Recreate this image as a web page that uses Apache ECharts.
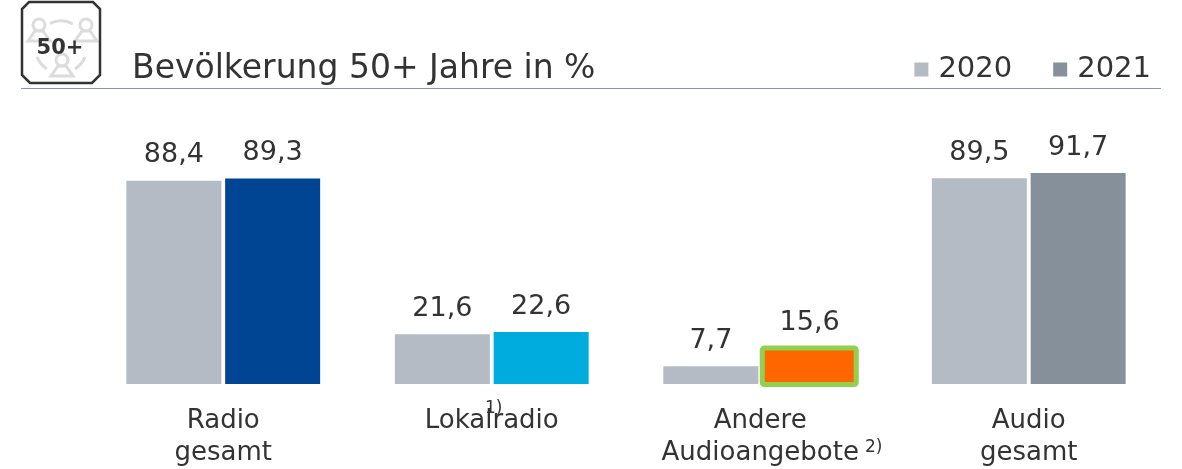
<!DOCTYPE html>
<html>
<head>
<meta charset="utf-8">
<style>html,body{margin:0;padding:0;background:#fff}#main{width:1182px;height:469px}</style>
<script src="https://cdn.jsdelivr.net/npm/echarts@6/dist/echarts.min.js"></script>
</head>
<body>
<div id="main"></div>
<script>
var categories = ['Radio\ngesamt', 'Lokalradio', 'Andere\nAudioangebote', 'Audio\ngesamt'];
var values2020 = [88.4, 21.6, 7.7, 89.5];
var values2021 = [89.3, 22.6, 15.6, 91.7];
var colors2021 = ['#004494', '#00acdd', '#ff6600', '#85909b'];
var highlight2021 = [null, null, 15.6, null];
var titleText = 'Bevölkerung 50+ Jahre in %';

var font = '"DejaVu Sans", sans-serif';
var textColor = '#333333';
var myChart = echarts.init(document.getElementById('main'));

function commaLabel(p) {
    return String(p.value).replace('.', ',');
}

// one pale figure of the 50+ icon
function person(x, y) {
    return {
        type: 'group', x: x, y: y, silent: true,
        children: [
            {type: 'circle', shape: {cx: 0, cy: -10, r: 6}, style: {fill: '#fff', stroke: '#dcdcdc', lineWidth: 3}},
            {type: 'polygon', shape: {points: [[-4, -4], [4, -4], [11, 6], [-11, 6]]}, style: {fill: '#fff', stroke: '#dcdcdc', lineWidth: 3}}
        ]
    };
}

// green frame round the highlighted 2021 bar, it sits outside the bar edge
function renderFrame(params, api) {
    var top = api.coord([api.value(0), api.value(1)]);
    var base = api.coord([api.value(0), 0]);
    return {
        type: 'rect',
        shape: {x: top[0] + 2, y: top[1], width: 94, height: base[1] - top[1] + 0.5, r: 2},
        style: {fill: 'none', stroke: '#92d050', lineWidth: 5}
    };
}

var option = {
    animation: false,
    title: {
        text: titleText,
        left: 127,
        top: 48,
        textStyle: {fontFamily: font, fontSize: 33, fontWeight: 'normal', color: textColor}
    },
    legend: {
        right: 26,
        top: 50,
        itemWidth: 14,
        itemHeight: 14,
        itemGap: 41,
        icon: 'rect',
        data: ['2020', '2021'],
        textStyle: {fontFamily: font, fontSize: 29, color: textColor, padding: [0, 0, 0, 5]}
    },
    grid: {left: 89, right: 19, top: 154, height: 230, outerBoundsMode: 'none'},
    xAxis: {
        type: 'category',
        data: categories,
        axisLine: {show: false},
        axisTick: {show: false},
        axisLabel: {
            interval: 0,
            margin: 21,
            fontFamily: font,
            fontSize: 26,
            lineHeight: 32,
            color: textColor
        }
    },
    yAxis: {type: 'value', min: 0, max: 100, show: false},
    series: [
        {
            name: '2020',
            type: 'bar',
            barWidth: 95,
            barGap: '4%',
            itemStyle: {color: '#b4bbc4'},
            label: {show: true, position: 'top', distance: 12, formatter: commaLabel,
                fontFamily: font, fontSize: 27, color: textColor},
            data: values2020
        },
        {
            name: '2021',
            type: 'bar',
            barWidth: 95,
            itemStyle: {color: '#85909b'},
            label: {show: true, position: 'top', distance: 12, formatter: commaLabel,
                fontFamily: font, fontSize: 27, color: textColor},
            data: values2021.map(function (v, i) {
                return {value: v, itemStyle: {color: colors2021[i]}};
            })
        },
        {
            type: 'custom',
            renderItem: renderFrame,
            silent: true,
            z: 3,
            data: highlight2021.map(function (v, i) {
                return [i, v];
            })
        }
    ],
    graphic: [
        {type: 'line', silent: true, shape: {x1: 21, y1: 88.5, x2: 1161, y2: 88.5}, style: {stroke: '#8496a8', lineWidth: 1}},
        {type: 'arc', silent: true, shape: {cx: 61, cy: 47, r: 26, startAngle: -2.0, endAngle: -1.1}, style: {fill: 'none', stroke: '#dcdcdc', lineWidth: 3}},
        {type: 'arc', silent: true, shape: {cx: 61, cy: 47, r: 26, startAngle: 0.4, endAngle: 1.0}, style: {fill: 'none', stroke: '#dcdcdc', lineWidth: 3}},
        {type: 'arc', silent: true, shape: {cx: 61, cy: 47, r: 26, startAngle: 2.15, endAngle: 2.75}, style: {fill: 'none', stroke: '#dcdcdc', lineWidth: 3}},
        person(39, 35),
        person(86, 35),
        person(62, 70),
        {type: 'polygon', silent: true, shape: {points: [[29, 2], [93, 2], [100, 9], [100, 75], [92, 83], [30, 83], [22, 75], [22, 9]]},
            style: {fill: 'none', stroke: '#333333', lineWidth: 2.5}},
        {type: 'text', silent: true, x: 60, y: 49, style: {text: '50+', font: 'bold 21px "DejaVu Sans", sans-serif', fill: textColor, align: 'center', verticalAlign: 'middle'}},
        {type: 'text', silent: true, x: 485, y: 400, style: {text: '1)', font: '17px "DejaVu Sans", sans-serif', fill: textColor}},
        {type: 'text', silent: true, x: 865, y: 439, style: {text: '2)', font: '17px "DejaVu Sans", sans-serif', fill: textColor}}
    ]
};

myChart.setOption(option, true);
</script>
</body>
</html>
